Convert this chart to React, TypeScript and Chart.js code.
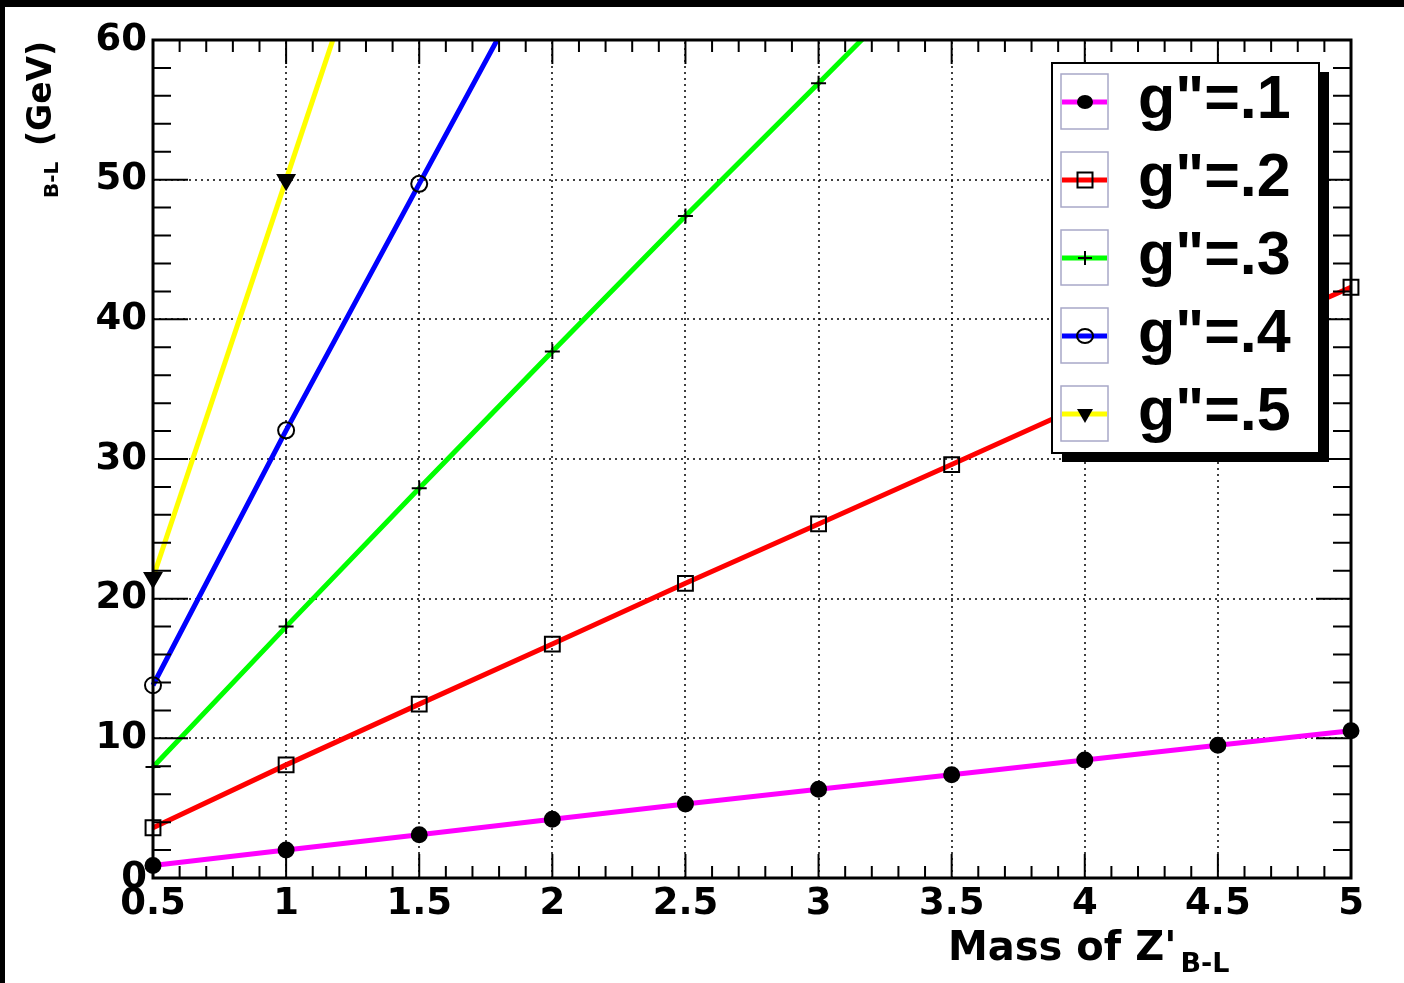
import React, { useEffect, useRef } from "react";
import { Chart, registerables } from "chart.js";

Chart.register(...registerables);

// ---- data ----
const massValues = [0.5, 1, 1.5, 2, 2.5, 3, 3.5, 4, 4.5, 5];
const g1Values = [0.9, 2.0, 3.1, 4.2, 5.3, 6.35, 7.4, 8.45, 9.5, 10.55];
const g2Values = [3.6, 8.1, 12.45, 16.75, 21.1, 25.35, 29.6, 33.9, 38.1, 42.3];
const g3Values = [7.95, 18.0, 27.9, 37.7, 47.4, 56.9, 66.5];
const g4Values = [13.8, 32.05, 49.7, 67.3];
const g5Values = [21.5, 50.0, 78.5];
const seriesLabels = ['g"=.1', 'g"=.2', 'g"=.3', 'g"=.4', 'g"=.5'];
const seriesColors = ["#ff00ff", "#ff0000", "#00ff00", "#0000ff", "#ffff00"];
const xTickValues = [0.5, 1, 1.5, 2, 2.5, 3, 3.5, 4, 4.5, 5];
const yTickValues = [0, 10, 20, 30, 40, 50, 60];
const xTitle = "Mass of Z'";
const xTitleSub = "B-L";
const yTitle = "(GeV)";
const yTitleSub = "B-L";

const AXIS_FONT = "DejaVu Sans";
const LEGEND_FONT = "Liberation Sans";

type MarkerKind = "dot" | "square" | "plus" | "ring" | "tri";
const markerKinds: MarkerKind[] = ["dot", "square", "plus", "ring", "tri"];

function drawMarker(ctx: CanvasRenderingContext2D, kind: MarkerKind, x: number, y: number) {
  ctx.save();
  ctx.strokeStyle = "#000";
  ctx.fillStyle = "#000";
  ctx.lineWidth = 2;
  ctx.beginPath();
  if (kind === "dot") {
    ctx.ellipse(x, y, 8, 7, 0, 0, Math.PI * 2);
    ctx.fill();
  } else if (kind === "square") {
    ctx.rect(x - 7.5, y - 7.5, 15, 15);
    ctx.stroke();
  } else if (kind === "plus") {
    ctx.moveTo(x - 7, y);
    ctx.lineTo(x + 7, y);
    ctx.moveTo(x, y - 7);
    ctx.lineTo(x, y + 7);
    ctx.stroke();
  } else if (kind === "ring") {
    ctx.ellipse(x, y, 8, 7, 0, 0, Math.PI * 2);
    ctx.stroke();
  } else {
    ctx.moveTo(x - 8, y - 5);
    ctx.lineTo(x + 8, y - 5);
    ctx.lineTo(x, y + 9);
    ctx.closePath();
    ctx.fill();
  }
  ctx.restore();
}

const rootStyle = {
  id: "rootStyle",
  beforeDraw(chart: any) {
    const ctx: CanvasRenderingContext2D = chart.ctx;
    ctx.save();
    ctx.fillStyle = "#fff";
    ctx.fillRect(0, 0, chart.width, chart.height);
    ctx.fillStyle = "#000";
    ctx.fillRect(0, 0, chart.width, 7);
    ctx.fillRect(0, 0, 5, chart.height);
    ctx.restore();
  },
  beforeDatasetsDraw(chart: any) {
    const ctx: CanvasRenderingContext2D = chart.ctx;
    const a = chart.chartArea;
    const xs = chart.scales.x;
    const ys = chart.scales.y;
    ctx.save();
    ctx.strokeStyle = "#000";
    ctx.lineWidth = 1.5;
    ctx.setLineDash([2, 4]);
    xTickValues.forEach((v) => {
      const px = Math.round(xs.getPixelForValue(v));
      ctx.beginPath();
      ctx.moveTo(px, a.bottom);
      ctx.lineTo(px, a.top);
      ctx.stroke();
    });
    yTickValues.forEach((v) => {
      const py = Math.round(ys.getPixelForValue(v));
      ctx.beginPath();
      ctx.moveTo(a.left, py);
      ctx.lineTo(a.right, py);
      ctx.stroke();
    });
    ctx.restore();
  },
  afterDraw(chart: any) {
    const ctx: CanvasRenderingContext2D = chart.ctx;
    const a = chart.chartArea;
    const xs = chart.scales.x;
    const ys = chart.scales.y;
    ctx.save();
    ctx.strokeStyle = "#000";
    ctx.lineWidth = 2;
    ctx.setLineDash([]);
    const tickX = (v: number, len: number) => {
      const px = xs.getPixelForValue(v);
      ctx.beginPath();
      ctx.moveTo(px, a.bottom);
      ctx.lineTo(px, a.bottom - len);
      ctx.moveTo(px, a.top);
      ctx.lineTo(px, a.top + len);
      ctx.stroke();
    };
    const tickY = (v: number, len: number) => {
      const py = ys.getPixelForValue(v);
      ctx.beginPath();
      ctx.moveTo(a.left, py);
      ctx.lineTo(a.left + len, py);
      ctx.moveTo(a.right, py);
      ctx.lineTo(a.right - len, py);
      ctx.stroke();
    };
    for (let i = 0; i < xTickValues.length; i++) {
      tickX(xTickValues[i], 24);
      if (i < xTickValues.length - 1) {
        const step = (xTickValues[i + 1] - xTickValues[i]) / 5;
        for (let k = 1; k < 5; k++) tickX(xTickValues[i] + k * step, 12);
      }
    }
    for (let i = 0; i < yTickValues.length; i++) {
      tickY(yTickValues[i], 35);
      if (i < yTickValues.length - 1) {
        const step = (yTickValues[i + 1] - yTickValues[i]) / 5;
        for (let k = 1; k < 5; k++) tickY(yTickValues[i] + k * step, 18);
      }
    }
    // frame
    ctx.lineWidth = 3;
    ctx.strokeRect(a.left, a.top, a.right - a.left, a.bottom - a.top);

    // axis titles
    ctx.fillStyle = "#000";
    ctx.textAlign = "left";
    ctx.textBaseline = "alphabetic";
    ctx.font = `bold 40px "${AXIS_FONT}"`;
    const xMainX = 948;
    ctx.fillText(xTitle, xMainX, 960);
    const wMain = ctx.measureText(xTitle).width;
    ctx.font = `bold 27px "${AXIS_FONT}"`;
    ctx.fillText(xTitleSub, xMainX + wMain + 4, 972);

    ctx.save();
    ctx.translate(58, 198);
    ctx.rotate(-Math.PI / 2);
    ctx.font = `bold 20px "${AXIS_FONT}"`;
    ctx.fillText(yTitleSub, 0, 0);
    ctx.restore();
    ctx.save();
    ctx.translate(51, 146);
    ctx.rotate(-Math.PI / 2);
    ctx.font = `bold 33px "${AXIS_FONT}"`;
    ctx.fillText(yTitle, 0, 0);
    ctx.restore();

    // legend
    const lx = 1052, ly = 63, lw = 267, lh = 390;
    ctx.fillStyle = "#000";
    ctx.fillRect(lx + 10, ly + 9, lw, lh);
    ctx.fillStyle = "#fff";
    ctx.fillRect(lx, ly, lw, lh);
    ctx.lineWidth = 2;
    ctx.strokeStyle = "#000";
    ctx.strokeRect(lx, ly, lw, lh);
    seriesLabels.forEach((label, i) => {
      const cy = 102 + i * 78;
      ctx.strokeStyle = "#a8a8c8";
      ctx.lineWidth = 1.5;
      ctx.strokeRect(1061, cy - 28, 47, 55);
      ctx.strokeStyle = seriesColors[i];
      ctx.lineWidth = 5;
      ctx.beginPath();
      ctx.moveTo(1062, cy);
      ctx.lineTo(1107, cy);
      ctx.stroke();
      drawMarker(ctx, markerKinds[i], 1085, cy);
      ctx.fillStyle = "#000";
      ctx.font = `bold 61px "${LEGEND_FONT}"`;
      ctx.textAlign = "left";
      ctx.fillText(label, 1138, cy + 16);
    });
    ctx.restore();
  },
};

function toPoints(vals: number[]) {
  return vals.map((v, i) => ({ x: massValues[i], y: v }));
}

export default function App() {
  const ref = useRef<HTMLCanvasElement | null>(null);
  useEffect(() => {
    if (!ref.current) return;
    const clip = { left: 14, right: 14, top: 0, bottom: 14 };
    const common = { borderWidth: 5, pointBorderColor: "#000", pointBorderWidth: 2, tension: 0, clip, fill: false };
    const chart = new Chart(ref.current, {
      type: "line",
      data: {
        datasets: [
          { ...common, label: seriesLabels[0], data: toPoints(g1Values), borderColor: seriesColors[0], pointStyle: "circle", pointRadius: 7.5, pointBackgroundColor: "#000" },
          { ...common, label: seriesLabels[1], data: toPoints(g2Values), borderColor: seriesColors[1], pointStyle: "rect", pointRadius: 10.5, pointBackgroundColor: "rgba(0,0,0,0)" },
          { ...common, label: seriesLabels[2], data: toPoints(g3Values), borderColor: seriesColors[2], pointStyle: "cross", pointRadius: 7.5, pointBackgroundColor: "rgba(0,0,0,0)" },
          { ...common, label: seriesLabels[3], data: toPoints(g4Values), borderColor: seriesColors[3], pointStyle: "circle", pointRadius: 8, pointBackgroundColor: "rgba(0,0,0,0)" },
          { ...common, label: seriesLabels[4], data: toPoints(g5Values), borderColor: seriesColors[4], pointStyle: "triangle", pointRotation: 180, pointRadius: 9.5, pointBackgroundColor: "#000" },
        ] as any,
      },
      options: {
        responsive: false,
        animation: false,
        events: [],
        layout: { padding: { top: 40, right: 53, left: 0, bottom: 0 } },
        plugins: { legend: { display: false }, tooltip: { enabled: false } },
        scales: {
          x: {
            type: "linear",
            min: 0.5,
            max: 5,
            afterBuildTicks: (s: any) => {
              s.ticks = xTickValues.map((v) => ({ value: v }));
            },
            afterFit: (s: any) => {
              s.height = 105;
            },
            ticks: {
              font: { family: AXIS_FONT, weight: "bold", size: 37 },
              color: "#000",
              padding: 4,
              maxRotation: 0,
              minRotation: 0,
              autoSkip: false,
              callback: (v: any) => String(v),
            },
            grid: { display: false, drawTicks: false },
            border: { display: false },
          },
          y: {
            type: "linear",
            min: 0,
            max: 60,
            afterBuildTicks: (s: any) => {
              s.ticks = yTickValues.map((v) => ({ value: v }));
            },
            afterFit: (s: any) => {
              s.width = 153;
            },
            ticks: {
              font: { family: AXIS_FONT, weight: "bold", size: 37 },
              color: "#000",
              padding: 6,
              autoSkip: false,
              callback: (v: any) => String(v),
            },
            grid: { display: false, drawTicks: false },
            border: { display: false },
          },
        },
      } as any,
      plugins: [rootStyle],
    });
    return () => chart.destroy();
  }, []);
  return (
    <canvas
      ref={ref}
      width={1404}
      height={983}
      style={{ position: "absolute", left: 0, top: 0, width: 1404, height: 983, display: "block" }}
    />
  );
}
